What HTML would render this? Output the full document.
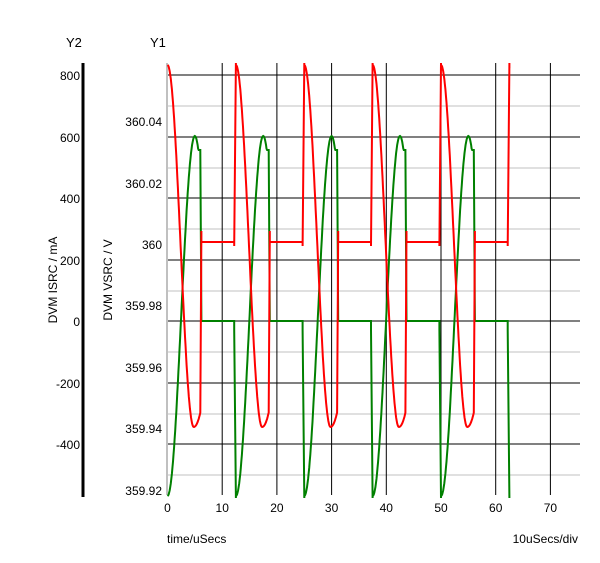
<!DOCTYPE html>
<html><head><meta charset="utf-8"><style>
body{margin:0;background:#fff;}
svg{display:block;font-family:"Liberation Sans",sans-serif;font-size:12px;}
</style></head><body>
<svg id="s" width="600" height="563" xmlns="http://www.w3.org/2000/svg">
<g id="grid"></g>
<line x1="83" y1="63" x2="83" y2="497" stroke="#000" stroke-width="3"/>
<text x="66" y="47" font-size="13">Y2</text>
<text x="150" y="47" font-size="13">Y1</text>
<g id="lab" fill="#000"></g>
<text transform="translate(57,280) rotate(-90)" text-anchor="middle">DVM ISRC / mA</text>
<text transform="translate(112,280) rotate(-90)" text-anchor="middle">DVM VSRC / V</text>
<text x="167" y="543">time/uSecs</text>
<text x="578" y="543" text-anchor="end">10uSecs/div</text>
<path id="g" fill="none" stroke="#008000" stroke-width="2"/>
<path id="r" fill="none" stroke="#ff0000" stroke-width="2"/>
</svg>
<script>
var ns="http://www.w3.org/2000/svg",G=document.getElementById('grid'),L=document.getElementById('lab');
function ln(x1,y1,x2,y2,c,w){var e=document.createElementNS(ns,'line');e.setAttribute('x1',x1);e.setAttribute('y1',y1);e.setAttribute('x2',x2);e.setAttribute('y2',y2);e.setAttribute('stroke',c);e.setAttribute('stroke-width',w||1);G.appendChild(e);}
function tx(x,y,s,a){var e=document.createElementNS(ns,'text');e.setAttribute('x',x);e.setAttribute('y',y);e.setAttribute('text-anchor',a||'end');e.textContent=s;L.appendChild(e);}
var y1g=[106,168,229,291,352,414,475];
y1g.forEach(function(y){ln(167,y,580,y,'#c0c0c0');});
var y2=[75,137,198,260,321,383,444],y2l=['800','600','400','200','0','-200','-400'];
y2.forEach(function(y,i){ln(167,y,580,y,'#000');tx(80,y+5,y2l[i]);});
ln(167,63,167,495,'#c0c0c0',2);
for(var i=1;i<=7;i++){var x=167.5+i*54.7;ln(x,63,x,495,'#000');}
var y1l=['360.04','360.02','360','359.98','359.96','359.94','359.92'],y1y=[121,183,244,305,367,428,490];
y1l.forEach(function(s,i){tx(162,y1y[i]+5,s);});
for(var i=0;i<=7;i++)tx(167.5+i*54.7,512,String(i*10),'middle');
function X(t){return (167.5+t*5.47).toFixed(1);}
var r='',g='';
for(var c=0;c<5;c++){var t0=c*12.5;
 for(var k=0;k<=60;k++){var t=k/10;var ry=246-181*Math.cos(Math.PI*Math.min(t,4.8)/4.8);
  if(t>4.8){ry=427-Math.pow(t-4.8,2)*10;}
  var gy=316-180*Math.cos(Math.PI*(t-5)/5);
  if(t>5.3){gy=Math.min(gy,150);}
  var m=(k==0&&c==0)?'M':'L';
  r+=m+X(t0+t)+' '+ry.toFixed(1);
  g+=m+X(t0+t)+' '+gy.toFixed(1);}
 var te=t0+6.2;
 r+='L'+X(te)+' 231L'+X(te)+' 242L'+X(t0+12.2)+' 242L'+X(t0+12.2)+' 246L'+X(t0+12.5)+' 63';
 g+='L'+X(te)+' 321L'+X(t0+12.2)+' 321L'+X(t0+12.2)+' 330L'+X(t0+12.5)+' 498';
}
document.getElementById('r').setAttribute('d',r+'L'+X(62.5)+' 68');
document.getElementById('g').setAttribute('d',g);
</script>
</body></html>
